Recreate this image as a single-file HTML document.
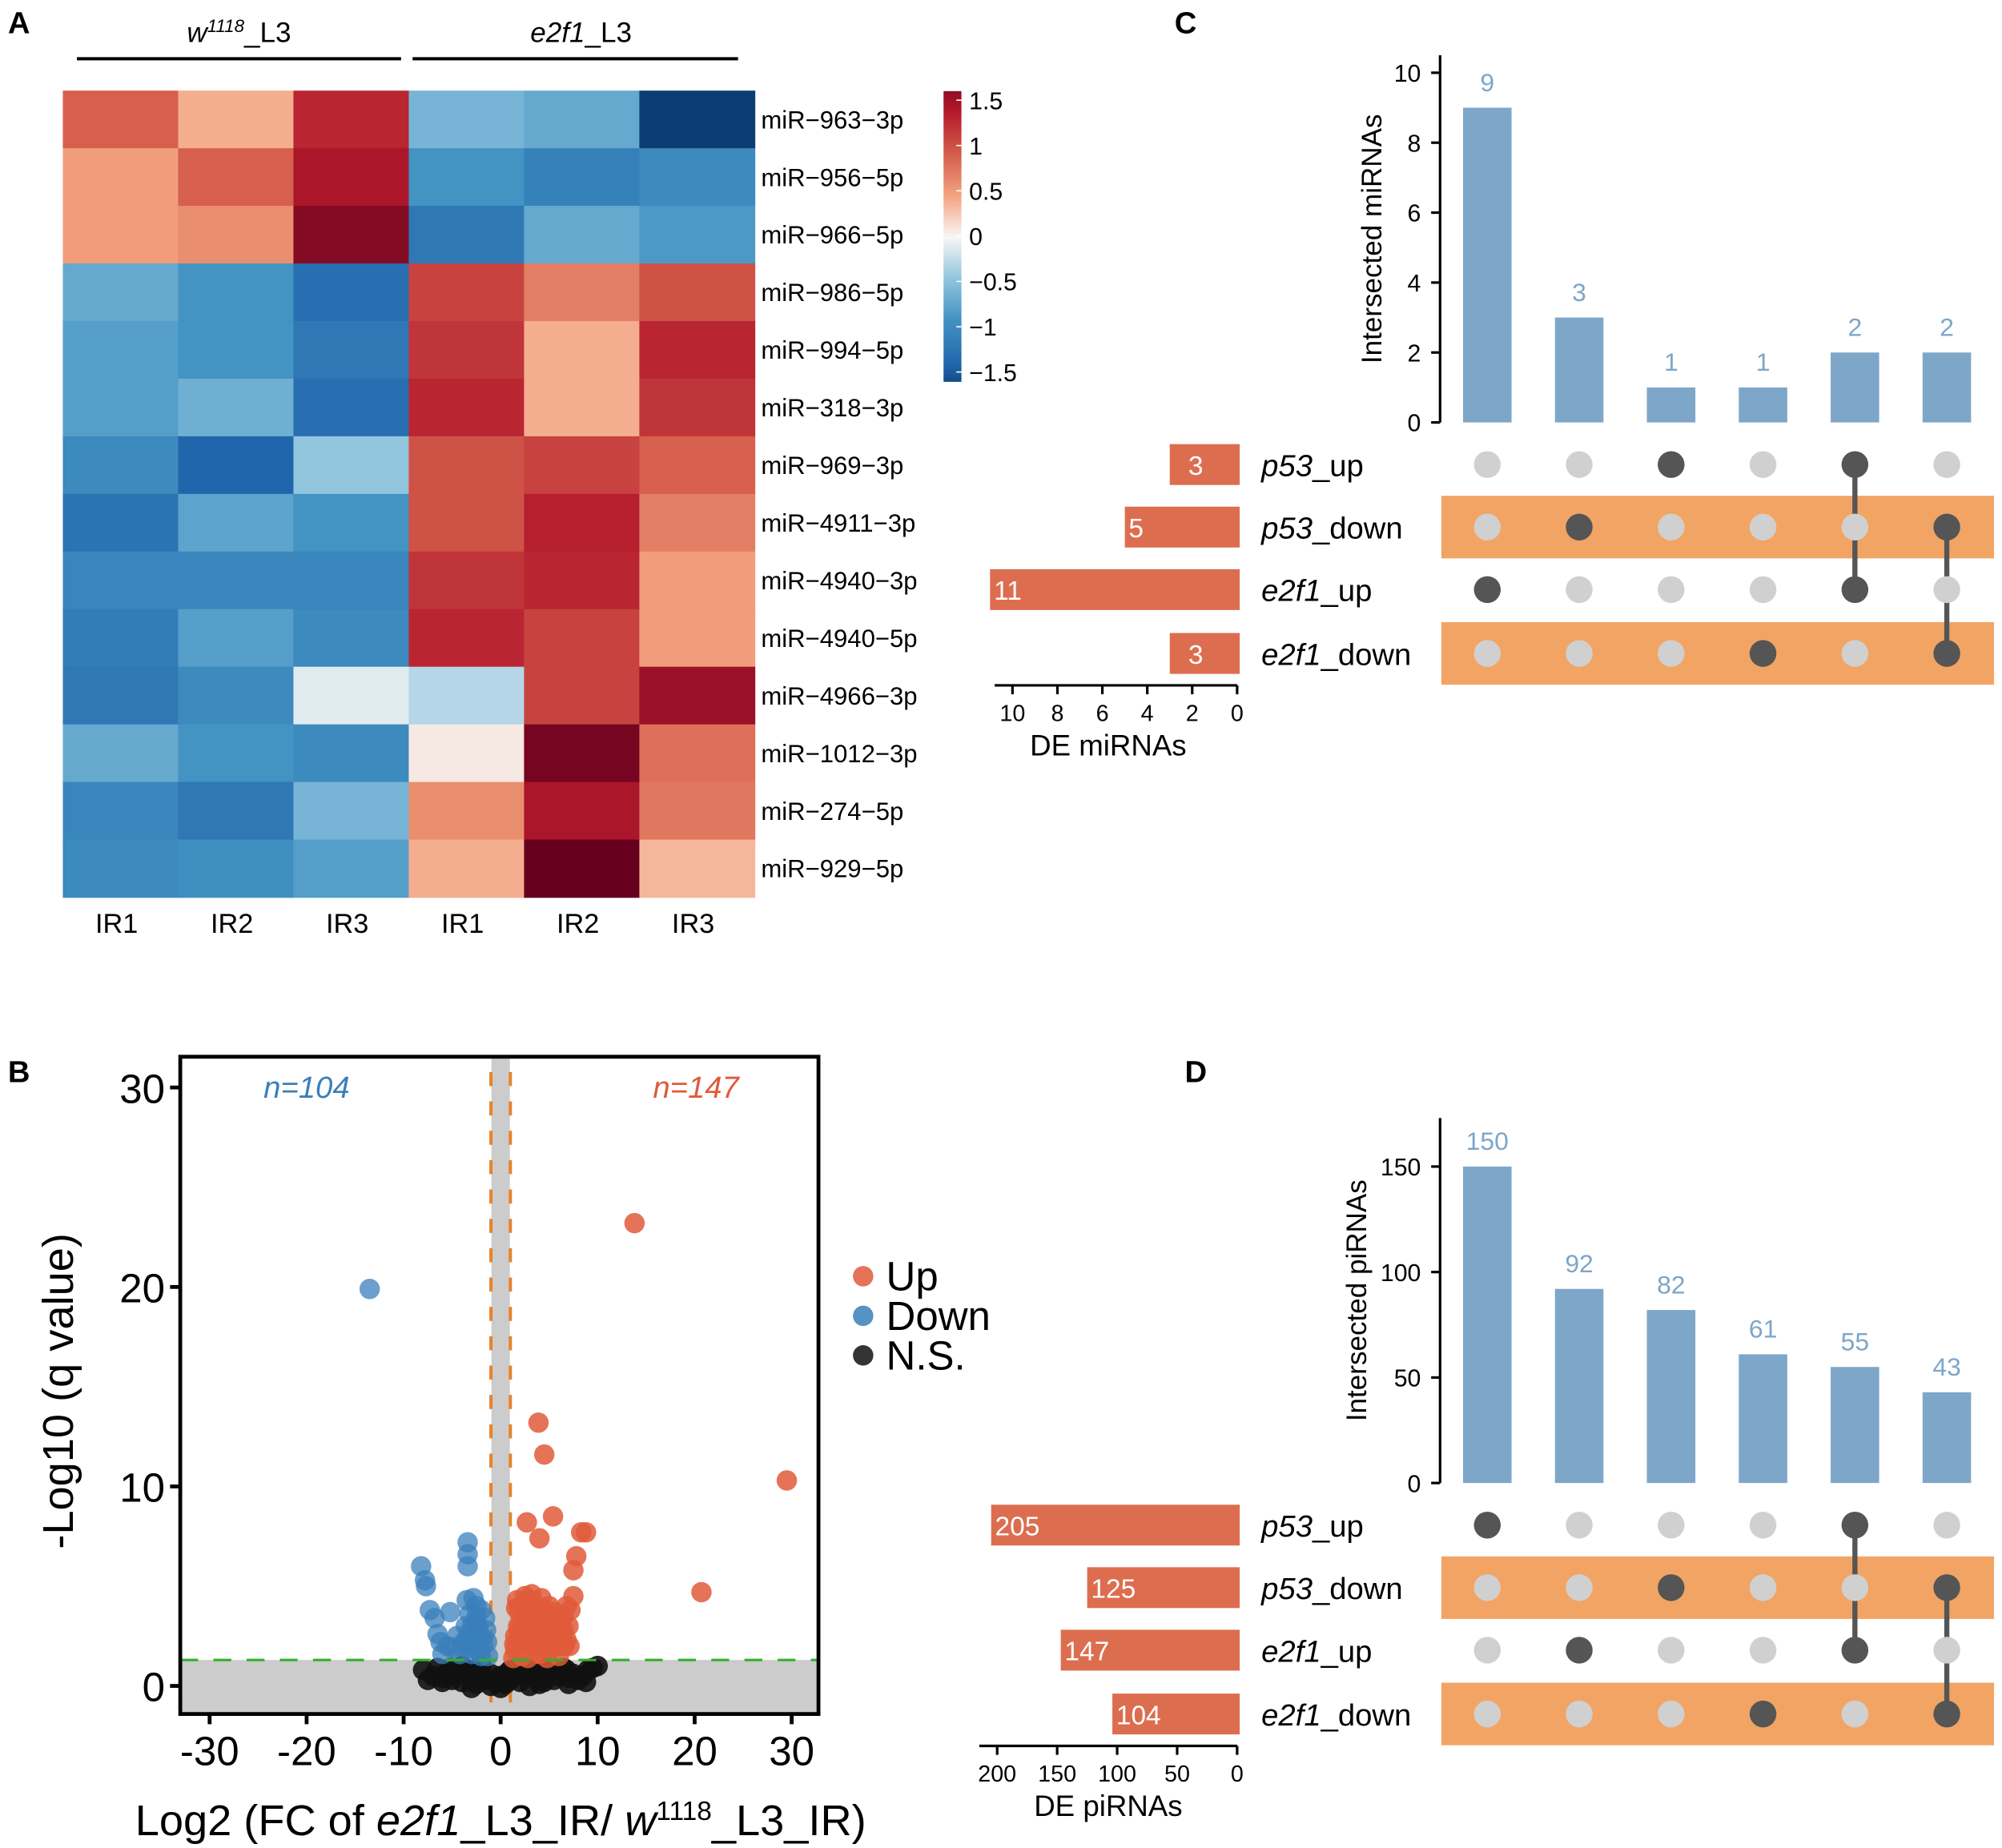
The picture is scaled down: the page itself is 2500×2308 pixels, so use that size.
<!DOCTYPE html>
<html><head><meta charset="utf-8">
<style>
html,body{margin:0;padding:0;background:#fff;}
svg{display:block;font-family:"Liberation Sans",Arial,sans-serif;}
</style></head>
<body>
<svg id="fig" width="2500" height="2308" viewBox="0 0 1568 1448" xmlns="http://www.w3.org/2000/svg">
<text x="6" y="26" font-size="24" font-weight="bold">A</text>
<text x="6" y="848" font-size="24" font-weight="bold">B</text>
<text x="920" y="26" font-size="24" font-weight="bold">C</text>
<text x="928" y="848" font-size="24" font-weight="bold">D</text>

<g>
<text x="187" y="33" font-size="22" text-anchor="middle"><tspan font-style="italic">w</tspan><tspan font-style="italic" font-size="14" dy="-8">1118</tspan><tspan dy="8">_L3</tspan></text>
<line x1="60" y1="46" x2="314" y2="46" stroke="#000" stroke-width="2.5"/>
<text x="455" y="33" font-size="22" text-anchor="middle"><tspan font-style="italic">e2f1</tspan>_L3</text>
<line x1="323" y1="46" x2="578" y2="46" stroke="#000" stroke-width="2.5"/>
</g>
<g id="heatmap"></g>
<g id="colorbar"></g>

<g id="volcano"></g>
<g id="upsetC"></g>
<g id="upsetD"></g>
</svg>
<script>
const NS="http://www.w3.org/2000/svg";
const hmRows=["miR\u2212963\u22123p","miR\u2212956\u22125p","miR\u2212966\u22125p","miR\u2212986\u22125p","miR\u2212994\u22125p","miR\u2212318\u22123p","miR\u2212969\u22123p","miR\u22124911\u22123p","miR\u22124940\u22123p","miR\u22124940\u22125p","miR\u22124966\u22123p","miR\u22121012\u22123p","miR\u2212274\u22125p","miR\u2212929\u22125p"];
const hmCols=["IR1","IR2","IR3","IR1","IR2","IR3"];
const hmValues=[
[0.9,0.4,1.3,-0.6,-0.7,-1.7],
[0.5,0.9,1.45,-0.9,-1.1,-1.0],
[0.5,0.6,1.7,-1.2,-0.7,-0.85],
[-0.7,-0.9,-1.3,1.1,0.7,1.0],
[-0.8,-0.9,-1.2,1.2,0.4,1.3],
[-0.8,-0.65,-1.3,1.3,0.4,1.2],
[-1.0,-1.4,-0.45,1.0,1.1,0.9],
[-1.25,-0.75,-0.9,1.0,1.35,0.7],
[-1.05,-1.05,-1.05,1.2,1.3,0.5],
[-1.15,-0.8,-1.0,1.3,1.1,0.5],
[-1.2,-1.0,-0.1,-0.3,1.1,1.55],
[-0.7,-0.9,-1.0,0.08,1.8,0.8],
[-1.05,-1.2,-0.6,0.6,1.45,0.75],
[-1.0,-0.95,-0.8,0.4,1.9,0.35]];
const cbTicks=[1.5,1,0.5,0,-0.5,-1,-1.5];

const upX=[13.8,29.5,20.7,3.9,4.5,5.4,2.7,4.0,8.3,8.8,7.8,7.5,7.5,7.2,2.5,3.2,4.2,5.0,2.0,3.0,4.5,6.0,6.5,1.5,2.5,3.5,5.0,6.0,6.8,1.5,2.2,4.0,6.0,1.8,3.8,5.5,6.8,1.3,2.8,4.8,1.6,2.3,3.0,3.7,4.4,5.1,5.8,6.5,7.0,1.9,2.6,3.3,4.0,4.7,5.4,6.1,6.6,1.4,2.1,2.8,3.5,4.2,4.9,5.6,6.3,7.1,1.7,2.4,3.1,3.8,4.5,5.2];
const upY=[23.2,10.3,4.7,13.2,11.6,8.5,8.2,7.4,7.7,7.7,6.5,5.8,4.5,3.8,4.5,4.6,4.4,4.0,3.5,3.2,3.0,3.3,2.8,2.5,2.2,2.0,2.2,2.0,2.3,1.8,1.5,1.6,1.5,3.0,3.6,3.7,4.0,1.4,1.4,1.4,3.9,4.1,4.3,4.0,3.8,3.5,3.2,3.5,3.0,2.9,3.4,2.7,3.0,2.6,2.8,2.5,2.0,2.1,2.6,2.3,2.5,2.0,1.8,2.4,2.6,2.0,4.3,3.9,3.6,3.2,3.6,3.1];
const downX=[-13.5,-8.2,-7.8,-7.7,-3.4,-3.4,-3.4,-7.3,-6.8,-5.2,-6.5,-6.2,-5.5,-3.5,-2.8,-2.5,-3.0,-2.2,-1.8,-3.8,-4.2,-3.0,-2.0,-1.5,-2.5,-3.2,-6.0,-4.5,-1.3,-2.0,-2.6,-3.3,-1.6,-2.3,-2.9,-3.6,-1.8,-2.4,-3.1,-1.4,-2.1,-4.0,-5.0];
const downY=[19.9,6.0,5.3,5.0,7.2,6.6,6.0,3.8,3.4,3.7,2.6,2.2,2.0,4.3,4.4,3.5,3.0,2.5,2.0,2.2,1.6,1.6,1.5,2.8,4.0,3.6,1.6,2.5,1.5,3.8,3.2,2.6,3.4,2.9,2.3,3.0,2.4,2.0,1.9,2.2,1.7,2.0,1.9];
const nsX=[-8,-7,-6.5,-6,-5.5,-5,-4.5,-4,-3.5,-3,-2.5,-2,-1.5,-1,-0.5,0,0.5,1,1.5,2,2.5,3,3.5,4,4.5,5,5.5,6,6.5,7,7.5,8,8.5,9,9.5,10,-4,-2,0,2,4,-1,1,-3,3,5,-6,7,-7.5,-5.2,-2.7,-0.2,0.8,2.8,4.8,6.8,8.8];
const nsY=[0.8,0.5,0.9,0.4,0.7,0.3,0.6,0.2,0.8,0.4,0.1,0.6,0.3,0,0.2,-0.1,0.1,0.3,0.7,0.2,0.5,0.8,0.4,0.6,0.2,0.7,0.3,0.5,0.9,0.4,0.6,0.3,0.5,0.8,0.9,1.0,1.0,1.0,0.5,1.0,0.1,0.6,0.8,-0.1,0.0,0.9,0.2,0.1,0.3,0.9,0.8,0.4,0.7,0.9,0.9,0.8,0.2];
const vXTicks=[-30,-20,-10,0,10,20,30];
const vYTicks=[0,10,20,30];

const setNames=["p53","p53","e2f1","e2f1"];
const setSuffix=["_up","_down","_up","_down"];
const cSetSizes=[3,5,11,3];
const cInter=[9,3,1,1,2,2];
const cMembers=[[2],[1],[0],[3],[0,2],[1,3]];
const cYTicks=[0,2,4,6,8,10];
const cXTicks=[10,8,6,4,2,0];
const dSetSizes=[205,125,147,104];
const dInter=[150,92,82,61,55,43];
const dMembers=[[0],[2],[1],[3],[0,2],[1,3]];
const dYTicks=[0,50,100,150];
const dXTicks=[200,150,100,50,0];

function el(tag,attrs,parent,text){const e=document.createElementNS(NS,tag);for(const k in attrs)e.setAttribute(k,attrs[k]);if(text!==undefined)e.textContent=text;parent.appendChild(e);return e;}

const stops=[[-1.8,[5,48,97]],[-1.4,[33,102,172]],[-0.9,[67,147,195]],[-0.45,[146,197,222]],[0,[247,247,247]],[0.45,[244,165,130]],[0.9,[214,96,77]],[1.4,[178,24,43]],[1.9,[103,0,31]]];
function col(v){if(v<=stops[0][0])return rgb(stops[0][1]);for(let i=1;i<stops.length;i++){if(v<=stops[i][0]){const t=(v-stops[i-1][0])/(stops[i][0]-stops[i-1][0]);const a=stops[i-1][1],b=stops[i][1];return rgb(a.map((x,j)=>x+(b[j]-x)*t));}}return rgb(stops[stops.length-1][1]);}
function rgb(a){return "rgb("+a.map(Math.round).join(",")+")";}

const hm=document.getElementById("heatmap");
const hx0=49,hy0=71,cw=(591-49)/6,ch=(703-71)/14;
hmValues.forEach((row,i)=>{row.forEach((v,j)=>{
 const r=el("rect",{x:hx0+j*cw,y:hy0+i*ch,width:cw+0.5,height:ch+0.5,fill:col(v)},hm);
 
 
});
 const t=el("text",{x:596,y:hy0+i*ch+ch/2+7,"font-size":19.5},hm,hmRows[i]);
 
 
});
hmCols.forEach((c,j)=>{const t=el("text",{x:hx0+j*cw+cw/2-3,y:731,"font-size":21.5,"text-anchor":"middle"},hm,c);
 
 });
const cb=document.getElementById("colorbar");
const cbY=v=>185-v*71;
for(let k=0;k<100;k++){const v=1.6-k*3.2/100;el("rect",{x:739,y:cbY(v),width:14,height:3.2*71/100+0.6,fill:col(v)},cb);}
cbTicks.forEach(v=>{el("line",{x1:749,x2:753,y1:cbY(v),y2:cbY(v),stroke:"#fff","stroke-width":1},cb);
 const t=el("text",{x:759,y:cbY(v)+7,"font-size":19},cb,(v<0?"\u2212":"")+Math.abs(v));
 
 });

const vg=document.getElementById("volcano");
const vx=v=>392+v*7.6, vy=v=>1321-v*15.63;
const L=141,R=641,T=828,B=1343;
el("rect",{x:L,y:vy(1.3),width:R-L,height:B-vy(1.3),fill:"#cccccc"},vg);
el("rect",{x:vx(-0.95),y:T,width:vx(0.95)-vx(-0.95),height:B-T,fill:"#cccccc"},vg);
el("line",{x1:vx(-1),x2:vx(-1),y1:T+12,y2:B,stroke:"#e8822a","stroke-width":2.5,"stroke-dasharray":"11 12"},vg);
el("line",{x1:vx(1),x2:vx(1),y1:T+12,y2:B,stroke:"#e8822a","stroke-width":2.5,"stroke-dasharray":"11 12"},vg);
nsX.forEach((x,i)=>{const c=el("circle",{cx:vx(x),cy:vy(nsY[i]),r:8,fill:"#111","fill-opacity":0.9},vg);
 
 });
downX.forEach((x,i)=>{const c=el("circle",{cx:vx(x),cy:vy(downY[i]),r:8,fill:"#3a7fbb","fill-opacity":0.75},vg);
 
 });
upX.forEach((x,i)=>{const c=el("circle",{cx:vx(x),cy:vy(upY[i]),r:8,fill:"#e05a3a","fill-opacity":0.85},vg);
 
 });
el("line",{x1:L,x2:R,y1:vy(1.3),y2:vy(1.3),stroke:"#33b02a","stroke-width":2,"stroke-dasharray":"14 12"},vg);
el("rect",{x:L,y:T,width:R-L,height:B-T,fill:"none",stroke:"#000","stroke-width":3},vg);
vXTicks.forEach(v=>{el("line",{x1:vx(v),x2:vx(v),y1:B,y2:B+8,stroke:"#000","stroke-width":3},vg);
 const t=el("text",{x:vx(v),y:B+40,"font-size":32,"text-anchor":"middle"},vg,String(v));
 
 });
vYTicks.forEach(v=>{el("line",{x1:L-8,x2:L,y1:vy(v),y2:vy(v),stroke:"#000","stroke-width":3},vg);
 const t=el("text",{x:L-12,y:vy(v)+12,"font-size":32,"text-anchor":"end"},vg,String(v));
 
 });
let t;
t=el("text",{x:0,y:0,"font-size":34,"text-anchor":"middle",transform:"translate(57,1090) rotate(-90)"},vg,"-Log10 (q value)");


t=el("text",{x:392,y:1438,"font-size":34,"text-anchor":"middle"},vg);


t.innerHTML='Log2 (FC of <tspan font-style="italic">e2f1</tspan>_L3_IR/ <tspan font-style="italic">w</tspan><tspan font-size="21" dy="-12">1118</tspan><tspan dy="12">_L3_IR)</tspan>';
t=el("text",{x:240,y:860,"font-size":24,"font-style":"italic",fill:"#3a7fbb","text-anchor":"middle"},vg,"n=104");


t=el("text",{x:545,y:860,"font-size":24,"font-style":"italic",fill:"#e05a3a","text-anchor":"middle"},vg,"n=147");


[["Up","#e05a3a",1000],["Down","#3a7fbb",1031],["N.S.","#111",1062]].forEach(l=>{
 const g=el("g",{},vg);
 
 
 el("circle",{cx:676,cy:l[2],r:8,fill:l[1],"fill-opacity":0.85},g);
 el("text",{x:694,y:l[2]+11,"font-size":32},g,l[0]);});

function upset(gid,sizes,inter,members,yTicks,xTicks,yScale,xScale,barBase,rowsY,axisY,yTitle,xTitle,yMax,titleX){
 const g=document.getElementById(gid);
 const cols=[1165,1237,1309,1381,1453,1525];
 [1,3].forEach(i=>el("rect",{x:1129,y:rowsY[i]-24.5,width:433,height:49,fill:"#f2a464"},g));
 el("line",{x1:1128,x2:1128,y1:yScale(yMax),y2:barBase,stroke:"#000","stroke-width":2},g);
 yTicks.forEach(v=>{el("line",{x1:1121,x2:1128,y1:yScale(v),y2:yScale(v),stroke:"#000","stroke-width":2},g);
  const t=el("text",{x:1113,y:yScale(v)+7,"font-size":19,"text-anchor":"end"},g,String(v));
  
  });
 const yt=el("text",{x:0,y:0,"font-size":22,"text-anchor":"middle",transform:"translate("+titleX+","+((yScale(yMax)+barBase)/2)+") rotate(-90)"},g,yTitle);
 
 
 inter.forEach((v,i)=>{const r=el("rect",{x:cols[i]-19,y:yScale(v),width:38,height:barBase-yScale(v),fill:"#7ea6c9"},g);
  
  
  const t=el("text",{x:cols[i],y:yScale(v)-13,"font-size":20,fill:"#7ea6c9","text-anchor":"middle"},g,String(v));
  
  });
 members.forEach((m,i)=>{
  if(m.length>1){el("line",{x1:cols[i],x2:cols[i],y1:rowsY[Math.min(...m)],y2:rowsY[Math.max(...m)],stroke:"#555","stroke-width":4},g);}
  rowsY.forEach((y,r)=>{const c=el("circle",{cx:cols[i],cy:y,r:10.5,fill:m.includes(r)?"#555":"#d0d0d0"},g);
   
   });
 });
 sizes.forEach((v,r)=>{const x=xScale(v);
  const b=el("rect",{x:x,y:rowsY[r]-16,width:971-x,height:32,fill:"#dc6e4f"},g);
  
  
  const short=(969-x)<60;
  const t=el("text",{x:short?(x+969)/2-6:x+3,y:rowsY[r]+8,"font-size":21,fill:"#fff","text-anchor":short?"middle":"start"},g,String(v));
  
  
  const n=el("text",{x:988,y:rowsY[r]+9,"font-size":24},g);
  
  
  n.innerHTML='<tspan font-style="italic">'+setNames[r]+'</tspan>'+setSuffix[r];
 });
 el("line",{x1:xScale(xTicks[0])-14,x2:969,y1:axisY,y2:axisY,stroke:"#000","stroke-width":2},g);
 xTicks.forEach(v=>{el("line",{x1:xScale(v),x2:xScale(v),y1:axisY,y2:axisY+7,stroke:"#000","stroke-width":2},g);
  const t=el("text",{x:xScale(v),y:axisY+28,"font-size":18,"text-anchor":"middle"},g,String(v));
  
  });
 const xt=el("text",{x:868,y:axisY+55,"font-size":23,"text-anchor":"middle"},g,xTitle);
 
 
}
upset("upsetC",cSetSizes,cInter,cMembers,cYTicks,cXTicks,v=>331-v*27.4,v=>969-v*17.6,331,[364,413,462,512],537,"Intersected miRNAs","DE miRNAs",10.5,1082);
upset("upsetD",dSetSizes,dInter,dMembers,dYTicks,dXTicks,v=>1162-v*1.653,v=>969-v*0.94,1162,[1195,1244,1293,1343],1368,"Intersected piRNAs","DE piRNAs",173,1070);
</script>
</body></html>
